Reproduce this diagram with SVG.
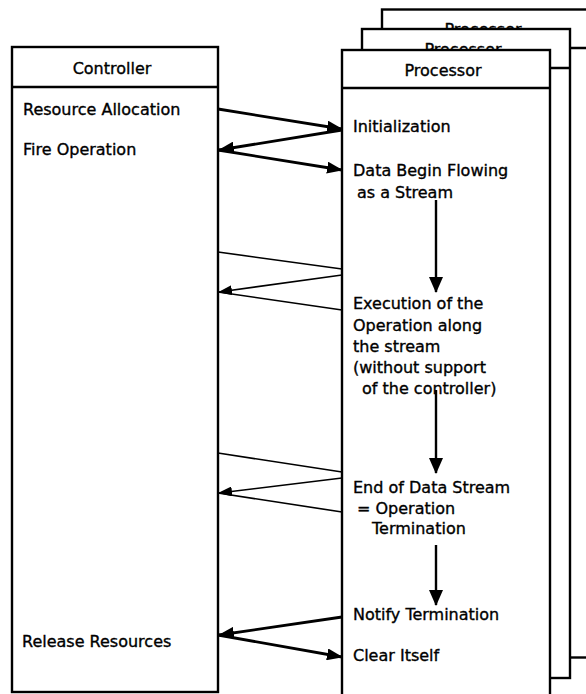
<svg xmlns="http://www.w3.org/2000/svg" width="586" height="694" viewBox="0 0 586 694">
<style>
.box{fill:#fff;stroke:#000;stroke-width:2.4}
.sep{stroke:#000;stroke-width:2.4}
.t{font-family:"DejaVu Sans",sans-serif;font-size:16px;fill:#000;stroke:#000;stroke-width:0.35}
.c{text-anchor:middle}
.thick{stroke:#000;stroke-width:2.8;fill:none}
.thin{stroke:#000;stroke-width:1.6;fill:none}
.vert{stroke:#000;stroke-width:2.4;fill:none}
</style>
<defs>
<marker id="ahThick" markerUnits="userSpaceOnUse" markerWidth="16" markerHeight="12" refX="15" refY="6" orient="auto"><path d="M0,0 L16,6 L0,12 z" fill="#000"/></marker>
<marker id="ahThin" markerUnits="userSpaceOnUse" markerWidth="14" markerHeight="10" refX="13" refY="5" orient="auto"><path d="M0,0 L14,5 L0,10 z" fill="#000"/></marker>
<marker id="ahVert" markerUnits="userSpaceOnUse" markerWidth="16" markerHeight="14" refX="15" refY="7" orient="auto"><path d="M0,0 L16,7 L0,14 z" fill="#000"/></marker>
</defs>
<rect width="586" height="694" fill="#fff"/>

<g id="processor-3">
<rect class="box" x="382" y="9.5" width="230" height="648"/>
<line class="sep" x1="382" y1="48" x2="612" y2="48"/>
<text class="t c" x="483" y="35">Processor</text>
</g>

<g id="processor-2">
<rect class="box" x="362" y="29" width="208" height="649"/>
<line class="sep" x1="362" y1="68" x2="570" y2="68"/>
<text class="t c" x="463" y="55">Processor</text>
</g>

<g id="processor">
<rect class="box" x="342" y="50" width="208" height="660"/>
<line class="sep" x1="342" y1="88" x2="550" y2="88"/>
<text class="t c" x="443" y="76">Processor</text>
<text class="t" x="353" y="132">Initialization</text>
<text class="t" x="353" y="176">Data Begin Flowing</text>
<text class="t" x="357" y="198"> as a Stream</text>
<text class="t" x="353" y="309">Execution of the</text>
<text class="t" x="353" y="331">Operation along</text>
<text class="t" x="353" y="352">the stream</text>
<text class="t" x="353" y="373">(without support</text>
<text class="t" x="362" y="394">of the controller)</text>
<text class="t" x="353" y="493">End of Data Stream</text>
<text class="t" x="357" y="514">= Operation</text>
<text class="t" x="372" y="534">Termination</text>
<text class="t" x="353" y="620">Notify Termination</text>
<text class="t" x="353" y="661">Clear Itself</text>
</g>

<g id="controller">
<rect class="box" x="12" y="47" width="206" height="645"/>
<line class="sep" x1="12" y1="87" x2="218" y2="87"/>
<text class="t c" x="112" y="74">Controller</text>
<text class="t" x="23" y="115">Resource Allocation</text>
<text class="t" x="23" y="155">Fire Operation</text>
<text class="t" x="22" y="647">Release Resources</text>
</g>

<g id="connectors">
<line class="thick" x1="218" y1="109" x2="342" y2="129" marker-end="url(#ahThick)"/>
<line class="thick" x1="342" y1="130" x2="219" y2="150" marker-end="url(#ahThick)"/>
<line class="thick" x1="218" y1="150" x2="342" y2="170" marker-end="url(#ahThick)"/>

<line class="vert" x1="436" y1="200" x2="436" y2="292" marker-end="url(#ahVert)"/>

<line class="thin" x1="218" y1="252" x2="342" y2="269"/>
<line class="thin" x1="342" y1="275" x2="219" y2="292" marker-end="url(#ahThin)"/>
<line class="thin" x1="218" y1="292" x2="342" y2="310"/>

<line class="vert" x1="436" y1="390" x2="436" y2="473" marker-end="url(#ahVert)"/>

<line class="thin" x1="218" y1="453" x2="342" y2="472"/>
<line class="thin" x1="342" y1="478" x2="219" y2="493" marker-end="url(#ahThin)"/>
<line class="thin" x1="218" y1="493" x2="342" y2="512"/>

<line class="vert" x1="436" y1="545" x2="436" y2="605" marker-end="url(#ahVert)"/>

<line class="thick" x1="342" y1="617" x2="219" y2="635" marker-end="url(#ahThick)"/>
<line class="thick" x1="218" y1="635" x2="342" y2="657" marker-end="url(#ahThick)"/>
</g>
</svg>
